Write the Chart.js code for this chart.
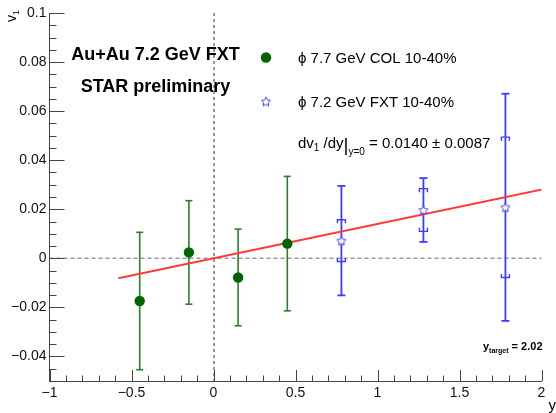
<!DOCTYPE html>
<html>
<head>
<meta charset="utf-8">
<script src="https://cdn.jsdelivr.net/npm/chart.js@4.4.1/dist/chart.umd.min.js"></script>
<style>
  html, body { margin: 0; padding: 0; background: #fff; }
  #chartCanvas { display: block; }
</style>
</head>
<body>
<canvas id="chartCanvas" width="556" height="413"></canvas>
<script>
// phi v1 vs rapidity, 10-40% centrality
const colRapidity = [-0.45, -0.15, 0.15, 0.45];
const colV1 = [-0.0174, 0.0024, -0.0078, 0.0060];
const colErr = [0.0280, 0.0211, 0.0197, 0.0274];

const fxtRapidity = [0.78, 1.28, 1.78];
const fxtV1 = [0.0072, 0.0197, 0.0208];
const fxtStat = [0.0223, 0.0130, 0.0463];
const fxtSys = [0.0085, 0.0087, 0.0286];

// linear fit dv1/dy, end points
const fitX = [-0.58, 2.02];
const fitY = [-0.0081, 0.0283];

const xTicks = [-1, -0.5, 0, 0.5, 1, 1.5, 2];
const yTicks = [-0.04, -0.02, 0, 0.02, 0.04, 0.06, 0.08, 0.1];

const FONT = '"Liberation Sans", Arial, Helvetica, sans-serif';
const GREEN = '#006400';
const GREEN_BAR = '#2b7f2b';
const BLUE = '#3c3cff';
const RED = '#ff3a3a';
const AXIS = '#444';

const fmt = v => String(v).replace('-', '\u2212');

const makeStar = (r, color) => {
    const c = document.createElement('canvas');
    const s = Math.ceil(r * 2 + 4);
    c.width = s;
    c.height = s;
    const g = c.getContext('2d');
    g.beginPath();
    for (let i = 0; i < 10; i++) {
        const rad = i % 2 === 0 ? r : r * 0.5;
        const a = -Math.PI / 2 + i * Math.PI / 5;
        const px = s / 2 + rad * Math.cos(a);
        const py = s / 2 + 0.5 + rad * Math.sin(a);
        if (i === 0) g.moveTo(px, py); else g.lineTo(px, py);
    }
    g.closePath();
    g.fillStyle = '#fff';
    g.fill();
    g.strokeStyle = color;
    g.lineWidth = 1;
    g.stroke();
    return c;
}
const starImg = makeStar(4.8, BLUE);

// draws a run of text pieces: {t, size, dy, bold}
const richText = (ctx, x, y, parts, align) => {
    let w = 0;
    parts.forEach(p => {
        ctx.font = `${p.bold ? 'bold ' : ''}${p.size}px ${FONT}`;
        p.w = ctx.measureText(p.t).width;
        w += p.w;
    });
    let cx = align === 'center' ? x - w / 2 : (align === 'right' ? x - w : x);
    parts.forEach(p => {
        ctx.font = `${p.bold ? 'bold ' : ''}${p.size}px ${FONT}`;
        ctx.fillText(p.t, cx, y + (p.dy || 0));
        cx += p.w;
    });
}

const line = (ctx, x1, y1, x2, y2) => {
    ctx.beginPath();
    ctx.moveTo(x1, y1);
    ctx.lineTo(x2, y2);
    ctx.stroke();
}

const decorations = {
    id: 'decorations',
    beforeDatasetsDraw(chart) {
        const { ctx, chartArea: area, scales: { x, y } } = chart;
        ctx.save();

        // zero lines
        ctx.setLineDash([4, 3]);
        ctx.strokeStyle = '#9a9a9a';
        ctx.lineWidth = 1.5;
        line(ctx, area.left, y.getPixelForValue(0), area.right, y.getPixelForValue(0));
        ctx.setLineDash([3, 3]);
        ctx.strokeStyle = '#333';
        ctx.lineWidth = 1;
        line(ctx, x.getPixelForValue(0) + 0.5, area.top, x.getPixelForValue(0) + 0.5, area.bottom);
        ctx.setLineDash([]);

        // inward ticks
        ctx.strokeStyle = AXIS;
        ctx.lineWidth = 1;
        for (let v = -1; v <= 2.0001; v += 0.1) {
            const px = Math.round(x.getPixelForValue(v)) + 0.5;
            const major = Math.abs(v * 2 - Math.round(v * 2)) < 1e-6;
            line(ctx, px, area.bottom, px, area.bottom - (major ? 11 : 5.5));
        }
        for (let v = -0.05; v <= 0.1001; v += 0.005) {
            const py = Math.round(y.getPixelForValue(v)) + 0.5;
            const major = Math.abs(v * 50 - Math.round(v * 50)) < 1e-6;
            line(ctx, area.left, py, area.left + (major ? 15 : 7), py);
        }

        // COL stat errors
        ctx.strokeStyle = GREEN_BAR;
        ctx.lineWidth = 1.6;
        colRapidity.forEach((r, i) => {
            const px = x.getPixelForValue(r);
            const top = y.getPixelForValue(colV1[i] + colErr[i]);
            const bot = y.getPixelForValue(colV1[i] - colErr[i]);
            line(ctx, px, top, px, bot);
            line(ctx, px - 3.5, top, px + 3.5, top);
            line(ctx, px - 3.5, bot, px + 3.5, bot);
        });

        // FXT stat and sys errors
        ctx.strokeStyle = BLUE;
        ctx.lineWidth = 1.8;
        fxtRapidity.forEach((r, i) => {
            const px = x.getPixelForValue(r);
            const top = y.getPixelForValue(fxtV1[i] + fxtStat[i]);
            const bot = y.getPixelForValue(fxtV1[i] - fxtStat[i]);
            line(ctx, px, top, px, bot);
            line(ctx, px - 4, top, px + 4, top);
            line(ctx, px - 4, bot, px + 4, bot);
            const sTop = y.getPixelForValue(fxtV1[i] + fxtSys[i]);
            const sBot = y.getPixelForValue(fxtV1[i] - fxtSys[i]);
            ctx.lineWidth = 1.4;
            ctx.beginPath();
            ctx.moveTo(px - 4, sTop + 3.5); ctx.lineTo(px - 4, sTop); ctx.lineTo(px + 4, sTop); ctx.lineTo(px + 4, sTop + 3.5);
            ctx.moveTo(px - 4, sBot - 3.5); ctx.lineTo(px - 4, sBot); ctx.lineTo(px + 4, sBot); ctx.lineTo(px + 4, sBot - 3.5);
            ctx.stroke();
            ctx.lineWidth = 1.8;
        });
        ctx.restore();
    },
    afterDraw(chart) {
        const { ctx } = chart;
        ctx.save();
        ctx.fillStyle = '#000';
        ctx.textBaseline = 'alphabetic';

        richText(ctx, 155.5, 60, [{ t: 'Au+Au 7.2 GeV FXT', size: 18, bold: true }], 'center');
        richText(ctx, 155.5, 92, [{ t: 'STAR preliminary', size: 18, bold: true }], 'center');

        // legend
        ctx.fillStyle = GREEN;
        ctx.beginPath();
        ctx.arc(266, 57.5, 5.2, 0, Math.PI * 2);
        ctx.fill();
        ctx.drawImage(starImg, 266 - starImg.width / 2, 101.5 - starImg.height / 2);
        ctx.fillStyle = '#000';
        richText(ctx, 298, 62.5, [{ t: '\u03d5 7.7 GeV COL 10-40%', size: 15 }]);
        richText(ctx, 298, 107, [{ t: '\u03d5 7.2 GeV FXT 10-40%', size: 15 }]);
        richText(ctx, 298, 148, [
            { t: 'dv', size: 15 },
            { t: '1', size: 10, dy: 3 },
            { t: ' /dy', size: 15 },
            { t: '|', size: 19, dy: 3 },
            { t: 'y=0', size: 10, dy: 7 },
            { t: ' = 0.0140 \u00b1 0.0087', size: 15 }
        ]);

        richText(ctx, 483, 350, [
            { t: 'y', size: 11, bold: true },
            { t: 'target', size: 7, bold: true, dy: 3 },
            { t: ' = 2.02', size: 11, bold: true }
        ]);

        // axis titles
        richText(ctx, 556, 410, [{ t: 'y', size: 15 }], 'right');
        ctx.translate(15.5, 22);
        ctx.rotate(-Math.PI / 2);
        richText(ctx, 0, 0, [{ t: 'v', size: 14 }, { t: '1', size: 9, dy: 3 }]);
        ctx.restore();
    }
};

class App {

    constructor() {
        this.canvas = document.getElementById('chartCanvas');
    }

    run = () => {
        const ctx = this.canvas.getContext('2d');
        this.myChart = new Chart(ctx, {
            type: 'scatter',
            data: {
                datasets: [{
                    label: 'COL',
                    data: colRapidity.map((r, i) => ({ x: r, y: colV1[i] })),
                    pointRadius: 5.2,
                    pointBackgroundColor: GREEN,
                    pointBorderColor: GREEN,
                    pointBorderWidth: 0,
                    order: 0
                }, {
                    label: 'FXT',
                    data: fxtRapidity.map((r, i) => ({ x: r, y: fxtV1[i] })),
                    pointStyle: starImg,
                    order: 1
                }, {
                    label: 'fit',
                    data: fitX.map((r, i) => ({ x: r, y: fitY[i] })),
                    showLine: true,
                    borderColor: RED,
                    borderWidth: 2,
                    pointRadius: 0,
                    order: 2
                }]
            },
            options: {
                responsive: false,
                animation: false,
                events: [],
                layout: { padding: { left: 0, right: 14.5, top: 13, bottom: 0 } },
                plugins: { legend: { display: false }, tooltip: { enabled: false } },
                scales: {
                    x: {
                        type: 'linear',
                        min: -1,
                        max: 2,
                        afterBuildTicks: s => { s.ticks = xTicks.map(v => ({ value: v })); },
                        afterFit: s => { s.height = 32; },
                        grid: { display: false, drawTicks: false, tickLength: 0 },
                        border: { display: true, color: AXIS, width: 1 },
                        ticks: {
                            padding: 4,
                            maxRotation: 0,
                            color: '#111',
                            font: { family: FONT, size: 14 },
                            callback: v => fmt(v)
                        }
                    },
                    y: {
                        type: 'linear',
                        min: -0.05,
                        max: 0.1,
                        afterBuildTicks: s => { s.ticks = yTicks.map(v => ({ value: v })); },
                        afterFit: s => { s.width = 49.5; },
                        grid: { display: false, drawTicks: false, tickLength: 0 },
                        border: { display: true, color: AXIS, width: 1 },
                        ticks: {
                            padding: 3,
                            color: '#111',
                            font: { family: FONT, size: 14 },
                            callback: v => fmt(v)
                        }
                    }
                }
            },
            plugins: [decorations]
        });
    }
}

window.addEventListener('load', () => {
    const app = new App();
    app.run();
});
</script>
</body>
</html>
